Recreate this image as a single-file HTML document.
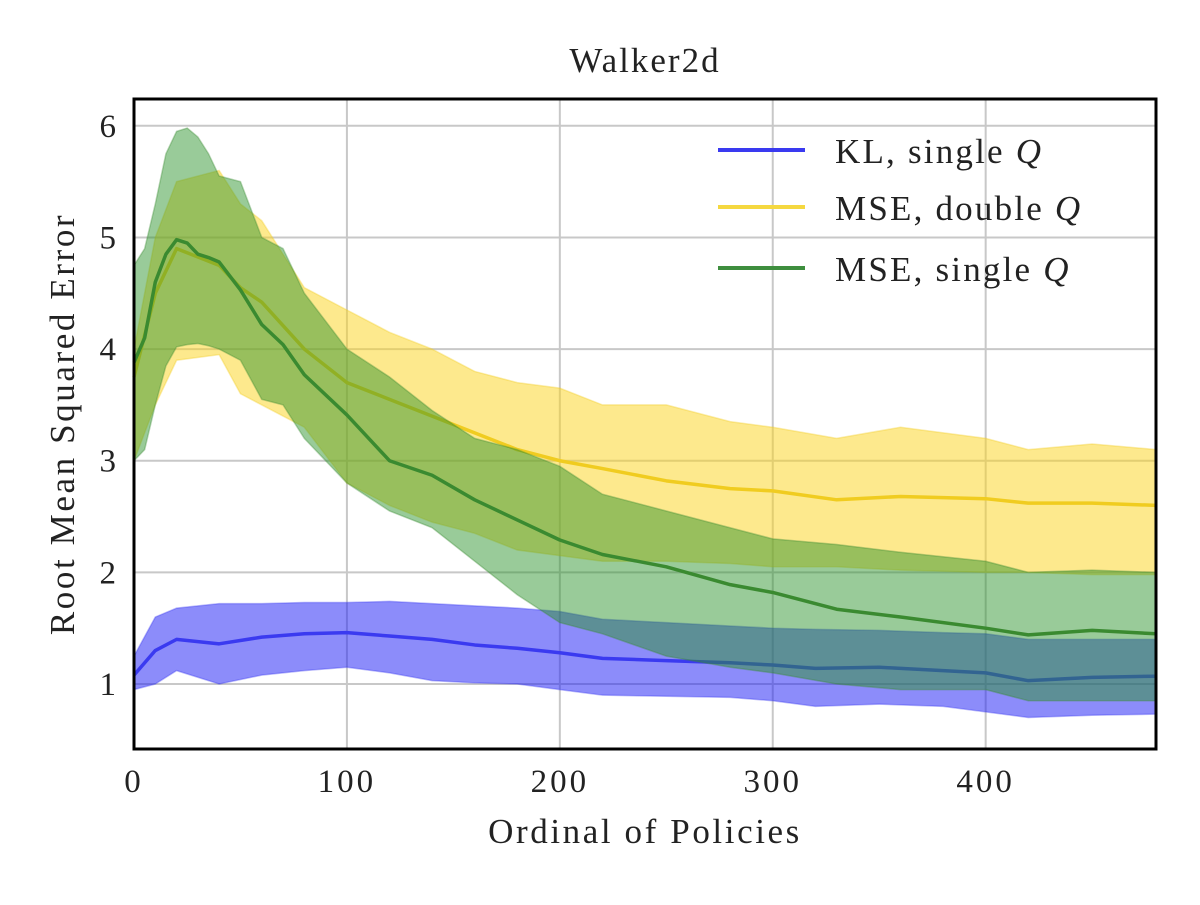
<!DOCTYPE html>
<html><head><meta charset="utf-8"><style>
body{margin:0;background:#fff;}
svg text{font-family:"Liberation Serif","DejaVu Serif",serif;fill:#222;}
</style></head><body>
<svg id="chart" width="1200" height="900" xmlns="http://www.w3.org/2000/svg">
<text x="645" y="72" font-size="35" letter-spacing="2" text-anchor="middle">Walker2d</text>
<g id="grid"></g>
<g id="series"></g>
<rect x="134" y="99" width="1022" height="650" fill="none" stroke="#000" stroke-width="3"/>
<g id="ticks"></g>
<text x="645" y="843" font-size="35" letter-spacing="2.6" text-anchor="middle">Ordinal of Policies</text>
<text transform="translate(74,424) rotate(-90)" font-size="35" letter-spacing="2.6" text-anchor="middle">Root Mean Squared Error</text>
<g>
<line x1="718" y1="150" x2="805" y2="150" stroke="#3a3af0" stroke-width="4"/>
<text x="835" y="163" font-size="35" letter-spacing="2.2">KL, single <tspan font-style="italic">Q</tspan></text>
<line x1="718" y1="207" x2="805" y2="207" stroke="#f5d840" stroke-width="4"/>
<text x="835" y="220" font-size="35" letter-spacing="2.2">MSE, double <tspan font-style="italic">Q</tspan></text>
<line x1="718" y1="268" x2="805" y2="268" stroke="#3e8e3e" stroke-width="4"/>
<text x="835" y="281" font-size="35" letter-spacing="2.2">MSE, single <tspan font-style="italic">Q</tspan></text>
</g>
</svg>
<script>
const xTicks=[0,100,200,300,400];
const yTicks=[1,2,3,4,5,6];
const blueX=[0,10,20,40,60,80,100,120,140,160,180,200,220,250,280,300,320,350,380,400,420,450,480];
const blueMean=[1.08,1.3,1.4,1.36,1.42,1.45,1.46,1.43,1.4,1.35,1.32,1.28,1.23,1.21,1.19,1.17,1.14,1.15,1.12,1.1,1.03,1.06,1.07];
const blueUp=[1.25,1.6,1.68,1.72,1.72,1.73,1.73,1.74,1.72,1.7,1.68,1.65,1.58,1.55,1.52,1.5,1.49,1.48,1.46,1.45,1.4,1.4,1.4];
const blueLo=[0.95,1.0,1.12,1.0,1.08,1.12,1.15,1.1,1.03,1.01,1.0,0.95,0.9,0.89,0.88,0.85,0.8,0.82,0.8,0.75,0.7,0.72,0.73];
const yelX=[0,10,20,40,50,60,80,100,120,140,160,180,200,220,250,280,300,330,360,400,420,450,480];
const yelMean=[3.75,4.5,4.9,4.75,4.55,4.42,4.0,3.7,3.55,3.4,3.25,3.1,3.0,2.93,2.82,2.75,2.73,2.65,2.68,2.66,2.62,2.62,2.6];
const yelUp=[4.0,5.0,5.5,5.6,5.3,5.15,4.55,4.35,4.15,4.0,3.8,3.7,3.65,3.5,3.5,3.35,3.3,3.2,3.3,3.2,3.1,3.15,3.1];
const yelLo=[3.0,3.5,3.9,3.95,3.6,3.5,3.3,2.8,2.6,2.45,2.35,2.2,2.15,2.1,2.1,2.08,2.05,2.05,2.02,2.0,2.0,1.98,1.98];
const grnX=[0,5,10,15,20,25,30,35,40,50,60,70,80,100,120,140,160,180,200,220,250,280,300,330,360,400,420,450,480];
const grnMean=[3.88,4.1,4.6,4.85,4.98,4.95,4.85,4.82,4.78,4.53,4.22,4.04,3.77,3.41,3.0,2.87,2.65,2.47,2.29,2.16,2.05,1.89,1.82,1.67,1.6,1.5,1.44,1.48,1.45];
const grnUp=[4.75,4.9,5.3,5.75,5.95,5.98,5.9,5.75,5.55,5.5,5.0,4.9,4.5,4.0,3.75,3.45,3.2,3.1,2.95,2.7,2.55,2.4,2.3,2.25,2.18,2.1,2.0,2.02,2.0];
const grnLo=[3.0,3.1,3.5,3.85,4.02,4.04,4.05,4.03,4.0,3.9,3.55,3.5,3.2,2.8,2.55,2.4,2.1,1.8,1.55,1.45,1.25,1.15,1.1,1.0,0.95,0.95,0.85,0.85,0.85];
const X0=134,X1=1156,Y0=749,Y1=99,XMAX=480,YMIN=0.418,YMAX=6.24;
const sx=v=>X0+v/XMAX*(X1-X0);
const sy=v=>Y0-(v-YMIN)/(YMAX-YMIN)*(Y0-Y1);
const NS='http://www.w3.org/2000/svg';
const grid=document.getElementById('grid'),ticks=document.getElementById('ticks'),ser=document.getElementById('series');
function mk(tag,attrs,parent){const e=document.createElementNS(NS,tag);for(const k in attrs)e.setAttribute(k,attrs[k]);parent.appendChild(e);return e;}
xTicks.forEach(t=>{
  const l=mk('line',{x1:sx(t),x2:sx(t),y1:Y1,y2:Y0,stroke:'#c8c8c8','stroke-width':2},grid);
  
  
  const tx=mk('text',{x:sx(t),y:792,'font-size':33,'letter-spacing':3,'text-anchor':'middle'},ticks);
  tx.textContent=t;
  
  
});
yTicks.forEach(t=>{
  const l=mk('line',{x1:X0,x2:X1,y1:sy(t),y2:sy(t),stroke:'#c8c8c8','stroke-width':2},grid);
  
  
  const tx=mk('text',{x:116,y:sy(t)+11,'font-size':33,'text-anchor':'end'},ticks);
  tx.textContent=t;
  
  
});
function draw(xs,m,u,lo,fill,line,name,op){
  let d='M'+xs.map((x,i)=>sx(x)+','+sy(u[i])).join('L');
  for(let i=xs.length-1;i>=0;i--)d+='L'+sx(xs[i])+','+sy(lo[i]);
  const b=mk('path',{d:d+'Z',fill:fill,'fill-opacity':op,stroke:line,'stroke-opacity':0.35,'stroke-width':1.5},ser);
  
  
  const p=mk('path',{d:'M'+xs.map((x,i)=>sx(x)+','+sy(m[i])).join('L'),fill:'none',stroke:line,'stroke-width':3.5,'stroke-linejoin':'round'},ser);
  
  
}
draw(blueX,blueMean,blueUp,blueLo,'#1a1af5','#3a3af0','kl-single-q',0.5);
draw(yelX,yelMean,yelUp,yelLo,'#fcd41c','#f0cc20','mse-double-q',0.5);
draw(grnX,grnMean,grnUp,grnLo,'#2a922a','#3a8a30','mse-single-q',0.48);
</script>
</body></html>
